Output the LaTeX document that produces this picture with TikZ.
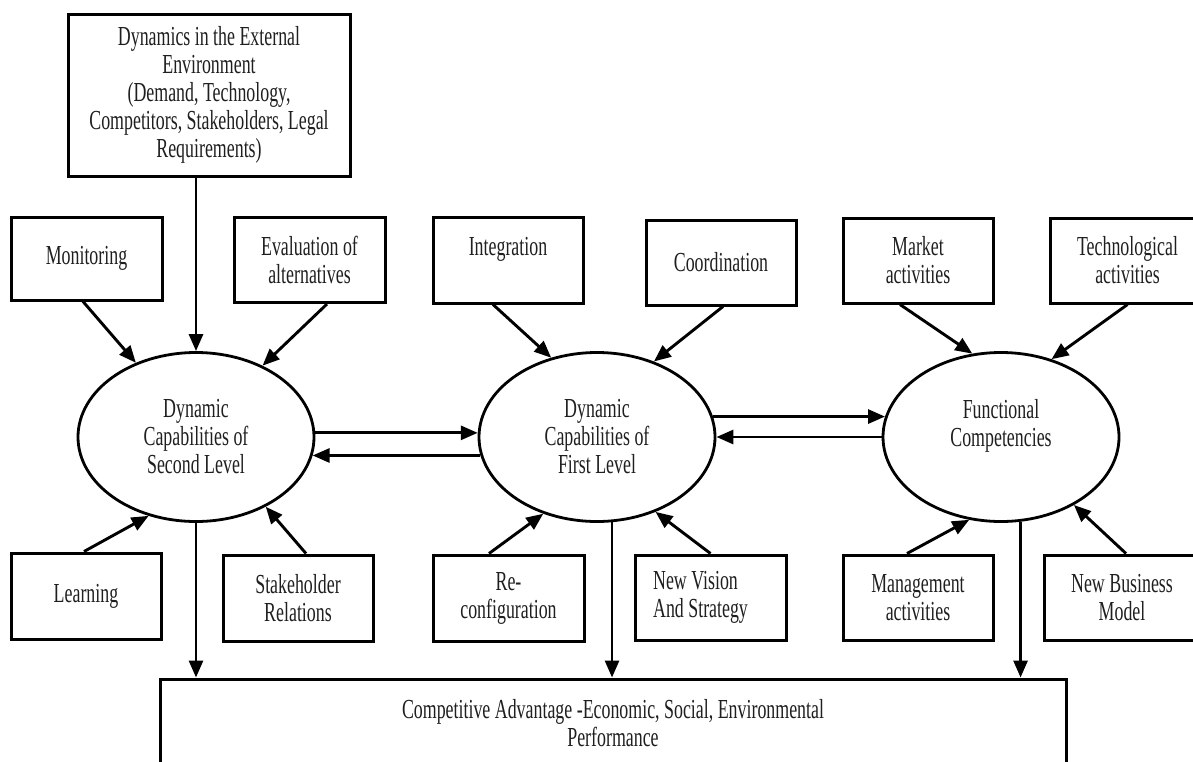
\documentclass[tikz,border=0pt]{standalone}
\usepackage{fontspec}
\setmainfont[FakeStretch=0.65]{Liberation Serif}
\usetikzlibrary{arrows.meta,shapes.geometric,calc}
\begin{document}
\begin{tikzpicture}[x=1pt,y=-1pt,
  txt/.style={font=\fontsize{27.5}{28}\selectfont, text=black!88},
  box/.style={draw, line width=3pt, rectangle, align=center, inner sep=0pt, txt},
  ell/.style={draw, line width=2.8pt, ellipse, minimum width=236pt, minimum height=169pt, inner sep=0pt, align=center, txt},
  arr/.style={line width=2.9pt, -{Triangle[length=17pt,width=14pt]}},
]
\useasboundingbox (0,0) rectangle (1193,761);
\clip (0,0) rectangle (1193,761);

% top box
\node[box, minimum width=282pt, minimum height=162pt] (top) at (209,95)
  {Dynamics in the External\\Environment\\(Demand, Technology,\\Competitors, Stakeholders, Legal\\Requirements)};

% upper boxes
\node[box, minimum width=151pt, minimum height=83pt] (mon) at (86.5,258.5) {Monitoring};
\node[box, minimum width=151pt, minimum height=85pt] (eva) at (309.5,260) {Evaluation of\\alternatives};
\node[box, minimum width=150pt, minimum height=86pt] (int) at (508,260) {Integration\\ \mbox{}};
\node[box, minimum width=150pt, minimum height=85pt] (coo) at (721,262.5) {Coordination};
\node[box, minimum width=150pt, minimum height=85pt] (mkt) at (918,260.5) {Market\\activities};
\node[box, minimum width=155pt, minimum height=85pt] (tec) at (1127.5,260.5) {Technological\\activities};

% ellipses
\node[ell] (e1) at (196,437) {Dynamic\\Capabilities of\\Second Level};
\node[ell] (e2) at (597,437) {Dynamic\\Capabilities of\\First Level};
\node[ell] (e3) at (1001,437) {Functional\\Competencies\\ \mbox{}};

% lower boxes
\node[box, minimum width=150pt, minimum height=86pt] (lea) at (86,596) {Learning};
\node[box, minimum width=150pt, minimum height=86pt] (sta) at (298,598) {Stakeholder\\Relations};
\node[box, minimum width=151pt, minimum height=86pt] (rec) at (508.5,598) {Re-\\configuration};
\node[box, minimum width=151pt, minimum height=85pt, align=left] (nvs) at (710.5,597.5) {New Vision\\And Strategy\hspace*{20pt}};
\node[box, minimum width=150pt, minimum height=85pt] (man) at (918,597.5) {Management\\activities};
\node[box, minimum width=156pt, minimum height=85pt] (nbm) at (1122,597.5) {New Business\\Model};

% bottom box
\node[box, minimum width=906pt, minimum height=88pt] (bot) at (613,723)
  {Competitive Advantage -Economic, Social, Environmental\\Performance};

% arrows into e1
\draw[arr] (top.south -| e1.north) -- (e1.north);
\draw[arr] ([xshift=-3.5pt]mon.south) -- (e1.129);
\draw[arr] ([xshift=17.5pt]eva.south) -- (e1.47);
\draw[arr] ([xshift=-2pt]lea.north) -- (e1.239);
\draw[arr] ([xshift=8pt]sta.north) -- (e1.315);
\draw[arr] (e1.south) -- (e1.south |- bot.north);

% e1 <-> e2
\draw[arr] (e1.2) -- (e2.178);
\draw[arr] (e2.189) -- (e1.351);

% arrows into e2
\draw[arr] ([xshift=-15pt]int.south) -- (e2.120);
\draw[arr] ([xshift=2pt]coo.south) -- (e2.53);
\draw[arr] ([xshift=-19.5pt]rec.north) -- (e2.235);
\draw[arr] (nvs.north) -- (e2.308);
\draw[arr] (e2.280) -- (e2.280 |- bot.north);

% e2 <-> e3
\draw[arr] (e2.10) -- (e3.170);
\draw[arr] (e3.180) -- (e2.0);

% arrows into e3
\draw[arr] ([xshift=-18pt]mkt.south) -- (e3.109);
\draw[arr] (tec.south) -- (e3.57);
\draw[arr] ([xshift=-11pt]man.north) -- (e3.249);
\draw[arr] ([xshift=4pt]nbm.north) -- (e3.317);
\draw[arr] (e3.283) -- (e3.283 |- bot.north);
\end{tikzpicture}
\end{document}
